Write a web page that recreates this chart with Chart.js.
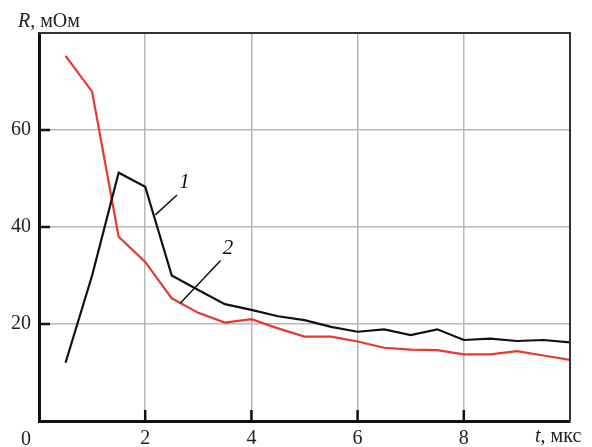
<!DOCTYPE html>
<html>
<head>
<meta charset="utf-8">
<script src="https://cdn.jsdelivr.net/npm/chart.js@4.4.0/dist/chart.umd.min.js"></script>
<style>
  html, body { margin: 0; padding: 0; background: #fff; }
  #wrap { width: 592px; height: 447px; position: relative; }
</style>
</head>
<body>
<div id="wrap"><canvas id="resChart"></canvas></div>
<script>
// время, мкс
const times = [0.5, 1, 1.5, 2, 2.5, 3, 3.5, 4, 4.5, 5, 5.5, 6, 6.5, 7, 7.5, 8, 8.5, 9, 9.5, 10];
// кривая 1 (чёрная)
const curve1 = [12, 30, 51.2, 48.3, 30, 27, 24.1, 22.9, 21.6, 20.8, 19.4, 18.4, 18.9, 17.7, 18.9, 16.7, 17.0, 16.5, 16.7, 16.2];
// кривая 2 (красная)
const curve2 = [75.3, 67.9, 38, 32.8, 25.3, 22.3, 20.3, 21, 19.1, 17.4, 17.4, 16.4, 15.1, 14.7, 14.6, 13.75, 13.75, 14.4, 13.5, 12.6];
const xTicks = [2, 4, 6, 8];
const yTicks = [20, 40, 60];
// подписи кривых: [метка, x1, y1, x2, y2, xText, yText]
const curveLabels = [
    ['1', 2.19, 42.5, 2.6, 46.6, 2.74, 49.2],
    ['2', 2.66, 24.3, 3.42, 33.1, 3.56, 35.6]
];

const serif = '"Liberation Serif", "DejaVu Serif", serif';

function toPoints(ys) {
    return times.map((t, i) => ({ x: t, y: ys[i] }));
}

const decorPlugin = {
    id: 'decor',
    afterDatasetsDraw(chart) {
        const ctx = chart.ctx;
        const area = chart.chartArea;
        const xs = chart.scales.x;
        const ys = chart.scales.y;
        ctx.save();

        // верхняя и правая рамка
        ctx.strokeStyle = '#333';
        ctx.lineWidth = 2;
        ctx.beginPath();
        ctx.moveTo(area.left, area.top);
        ctx.lineTo(area.right, area.top);
        ctx.lineTo(area.right, area.bottom);
        ctx.stroke();

        // засечки внутрь
        ctx.strokeStyle = '#111';
        ctx.lineWidth = 2.5;
        ctx.beginPath();
        yTicks.forEach(v => {
            const py = ys.getPixelForValue(v);
            ctx.moveTo(area.left, py);
            ctx.lineTo(area.left + 11, py);
        });
        xTicks.forEach(v => {
            const px = xs.getPixelForValue(v);
            ctx.moveTo(px, area.bottom);
            ctx.lineTo(px, area.bottom - 11);
        });
        ctx.stroke();

        // выноски
        ctx.lineWidth = 1.5;
        ctx.strokeStyle = '#111';
        ctx.fillStyle = '#111';
        ctx.font = 'italic 21px ' + serif;
        ctx.textAlign = 'center';
        ctx.textBaseline = 'middle';
        curveLabels.forEach(l => {
            ctx.beginPath();
            ctx.moveTo(xs.getPixelForValue(l[1]), ys.getPixelForValue(l[2]));
            ctx.lineTo(xs.getPixelForValue(l[3]), ys.getPixelForValue(l[4]));
            ctx.stroke();
            ctx.fillText(l[0], xs.getPixelForValue(l[5]), ys.getPixelForValue(l[6]));
        });

        // подписи осей
        ctx.fillStyle = '#222';
        ctx.textBaseline = 'alphabetic';
        ctx.textAlign = 'left';
        ctx.font = 'italic 20px ' + serif;
        ctx.fillText('R', 18, 27);
        let w = ctx.measureText('R').width;
        ctx.font = '20px ' + serif;
        ctx.fillText(', мОм', 18 + w, 27);

        ctx.font = 'italic 20px ' + serif;
        ctx.fillText('t', 535, 442);
        w = ctx.measureText('t').width;
        ctx.font = '20px ' + serif;
        ctx.fillText(', мкс', 535 + w, 442);

        ctx.textAlign = 'center';
        ctx.fillText('0', xs.getPixelForValue(0) - 13, 445);
        ctx.restore();
    }
};

const gridColor = (c) => {
    const v = c.tick.value;
    return (v === 0 || v === c.scale.max) ? 'rgba(0,0,0,0)' : '#b8b8b8';
};

new Chart(document.getElementById('resChart'), {
    type: 'line',
    data: {
        datasets: [{
            label: '1',
            data: toPoints(curve1),
            borderColor: '#111111',
            borderWidth: 2.2,
            pointRadius: 0,
            tension: 0
        }, {
            label: '2',
            data: toPoints(curve2),
            borderColor: '#e63a2e',
            borderWidth: 2.2,
            pointRadius: 0,
            tension: 0
        }]
    },
    options: {
        responsive: true,
        maintainAspectRatio: false,
        animation: false,
        layout: { padding: { top: 33, right: 22, left: 0, bottom: 0 } },
        plugins: { legend: { display: false }, tooltip: { enabled: false } },
        scales: {
            x: {
                type: 'linear',
                min: 0,
                max: 10,
                afterFit: (s) => { s.height = 26; },
                border: { color: '#111', width: 3 },
                grid: { color: gridColor, lineWidth: 1.5, drawTicks: false },
                ticks: {
                    stepSize: 2,
                    padding: 6,
                    color: '#222',
                    font: { family: serif, size: 20 },
                    callback: (v) => xTicks.includes(v) ? String(v) : ''
                }
            },
            y: {
                min: 0,
                max: 80,
                afterFit: (s) => { s.width = 39; },
                border: { color: '#111', width: 3 },
                grid: { color: gridColor, lineWidth: 1.5, drawTicks: false },
                ticks: {
                    stepSize: 20,
                    padding: 8,
                    color: '#222',
                    font: { family: serif, size: 20 },
                    callback: (v) => yTicks.includes(v) ? String(v) : ''
                }
            }
        }
    },
    plugins: [decorPlugin]
});
</script>
</body>
</html>
